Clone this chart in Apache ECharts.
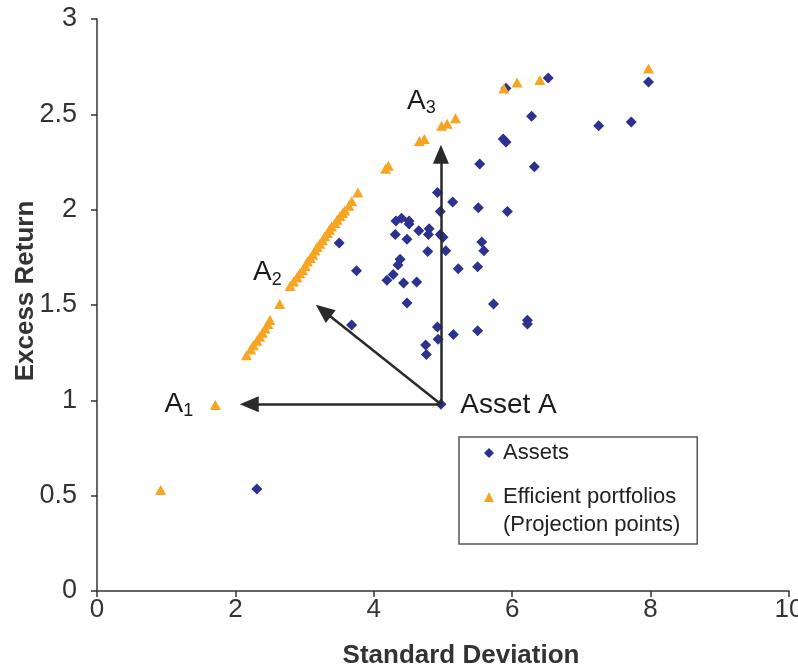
<!DOCTYPE html>
<html>
<head>
<meta charset="utf-8">
<script src="https://cdn.jsdelivr.net/npm/echarts@6/dist/echarts.min.js"></script>
<style>html,body{margin:0;padding:0;background:#fff}#c{width:798px;height:669px}</style>
</head>
<body>
<div id="c"></div>
<script>
// ---- Data ----
const xTicks = [0, 2, 4, 6, 8, 10];
const yTicks = [0, 0.5, 1, 1.5, 2, 2.5, 3];

const assetSD  = [3.50,4.32,4.40,4.51,4.51,4.31,4.48,4.65,4.80,4.79,4.96,4.96,5.00,4.78,5.04,5.22,3.75,4.38,4.35,4.28,4.19,4.43,4.62,4.48,3.68,4.92,5.15,4.93,4.75,4.76,4.92,5.14,5.51,5.93,5.56,5.59,5.50,5.73,6.22,6.22,5.50,6.52,5.91,7.97,6.28,7.25,7.72,5.87,5.91,5.53,6.32,2.31,4.97];
const assetRet = [1.825,1.94,1.955,1.94,1.925,1.87,1.845,1.89,1.90,1.87,1.99,1.87,1.855,1.78,1.785,1.69,1.68,1.74,1.71,1.66,1.63,1.615,1.62,1.51,1.395,1.385,1.345,1.32,1.29,1.24,2.09,2.04,2.01,1.99,1.83,1.785,1.70,1.505,1.42,1.40,1.365,2.69,2.637,2.67,2.49,2.44,2.46,2.37,2.355,2.24,2.225,0.535,0.98];

const effSD  = [0.92,1.71,2.16,2.22,2.26,2.31,2.35,2.39,2.43,2.47,2.50,2.64,2.79,2.84,2.89,2.93,2.97,3.01,3.04,3.08,3.12,3.15,3.18,3.22,3.26,3.29,3.33,3.36,3.39,3.44,3.47,3.51,3.55,3.58,3.64,3.68,3.77,4.17,4.21,4.66,4.73,4.98,5.06,5.18,5.88,6.07,6.40,7.97];
const effRet = [0.53,0.975,1.237,1.267,1.289,1.312,1.333,1.354,1.377,1.40,1.421,1.505,1.60,1.623,1.646,1.667,1.684,1.705,1.728,1.746,1.763,1.786,1.804,1.821,1.839,1.86,1.877,1.895,1.912,1.93,1.947,1.965,1.982,1.996,2.021,2.044,2.09,2.215,2.23,2.36,2.37,2.44,2.45,2.48,2.635,2.667,2.68,2.74];

// arrows from Asset A to projection points (end = arrowhead centre)
const arrowStart = [4.97, 0.98];
const arrowEndSD  = [2.20, 3.27, 4.97];
const arrowEndRet = [0.98, 1.47, 2.29];

// annotation labels
const labelText  = ['A', 'A', 'A', 'Asset A'];
const labelSub   = ['1', '2', '3', ''];
const labelSD    = [1.39, 2.67, 4.48, 5.25];
const labelRet   = [0.98, 1.67, 2.57, 0.975];
const labelAlign = ['right', 'right', 'left', 'left'];

const seriesNames = ['Assets', 'Efficient portfolios'];
const legendExtraLine = '(Projection points)';

// ---- Build ----
const FONT = 'Liberation Sans, Arial, Helvetica, sans-serif';
const assets = assetSD.map((x, i) => [x, assetRet[i]]);
const eff = effSD.map((x, i) => [x, effRet[i]]);
const arrows = arrowEndSD.map((x, i) => [{coord: arrowStart}, {coord: [x, arrowEndRet[i]]}]);
const labels = labelText.map((t, i) => ({
  value: [labelSD[i], labelRet[i]],
  label: {
    align: labelAlign[i],
    formatter: labelSub[i] ? '{a|' + t + '}{s|' + labelSub[i] + '}' : '{a|' + t + '}'
  }
}));

const chart = echarts.init(document.getElementById('c'), null, {renderer: 'canvas'});
chart.setOption({
  animation: false,
  backgroundColor: '#fff',
  textStyle: {fontFamily: FONT},
  grid: {left: 97, right: 9, top: 19, bottom: 78, containLabel: false, outerBoundsMode: 'none'},
  legend: {
    left: 459, top: 437,
    orient: 'vertical',
    selectedMode: false,
    padding: [2, 21, 33, 25],
    itemGap: 16,
    itemWidth: 10, itemHeight: 10,
    borderColor: '#555', borderWidth: 1.5,
    backgroundColor: '#fff',
    textStyle: {fontSize: 22, color: '#222', fontFamily: FONT, lineHeight: 28, padding: [0, 0, 0, 4]},
    data: [
      {name: seriesNames[0], icon: 'diamond'},
      {name: seriesNames[1], icon: 'triangle'}
    ]
  },
  graphic: [{
    type: 'text', left: 503, top: 514, z: 100,
    style: {text: legendExtraLine, fontSize: 22, fill: '#222', fontFamily: FONT}
  }],
  xAxis: {
    type: 'value', min: xTicks[0], max: xTicks[xTicks.length - 1], interval: 2,
    name: 'Standard Deviation', nameLocation: 'middle', nameGap: 52,
    nameMoveOverlap: false,
    nameTextStyle: {fontSize: 26, fontWeight: 'bold', color: '#333', fontFamily: FONT, padding: [0, 0, 0, 36]},
    axisLine: {show: true, lineStyle: {color: '#333', width: 1.5}},
    axisTick: {show: true, length: 6, lineStyle: {color: '#333', width: 1.5}},
    axisLabel: {fontSize: 26, color: '#333', margin: 6, fontFamily: FONT},
    splitLine: {show: false}
  },
  yAxis: {
    type: 'value', min: yTicks[0], max: yTicks[yTicks.length - 1], interval: 0.5,
    name: 'Excess Return', nameLocation: 'middle', nameGap: 58,
    nameMoveOverlap: false,
    nameTextStyle: {fontSize: 26, fontWeight: 'bold', color: '#333', fontFamily: FONT, padding: [0, 0, 0, 28]},
    axisLine: {show: true, lineStyle: {color: '#333', width: 1.5}},
    axisTick: {show: true, length: 6, lineStyle: {color: '#333', width: 1.5}},
    axisLabel: {fontSize: 27, color: '#333', margin: 20, fontFamily: FONT},
    splitLine: {show: false}
  },
  series: [
    {
      name: seriesNames[0], type: 'scatter', symbol: 'diamond', symbolSize: 11,
      itemStyle: {color: '#2d3190', opacity: 1}, data: assets, z: 3
    },
    {
      name: seriesNames[1], type: 'scatter', symbol: 'triangle', symbolSize: [11, 10],
      itemStyle: {color: '#f6a523', opacity: 1}, data: eff, z: 4
    },
    {
      name: 'annotations', type: 'scatter', symbolSize: 1,
      itemStyle: {color: 'rgba(0,0,0,0)', opacity: 1},
      z: 5,
      label: {
        show: true, position: 'inside', verticalAlign: 'middle',
        rich: {
          a: {fontSize: 28, color: '#1a1a1a', lineHeight: 32, fontFamily: FONT},
          s: {fontSize: 18, color: '#1a1a1a', lineHeight: 20, verticalAlign: 'bottom', fontFamily: FONT}
        }
      },
      data: labels,
      markLine: {
        silent: true,
        symbol: ['none', 'triangle'],
        symbolSize: [16, 19],
        label: {show: false},
        lineStyle: {color: '#2a2a2a', width: 2.5, type: 'solid', opacity: 1},
        emphasis: {disabled: true},
        data: arrows
      }
    }
  ]
});
</script>
</body>
</html>
